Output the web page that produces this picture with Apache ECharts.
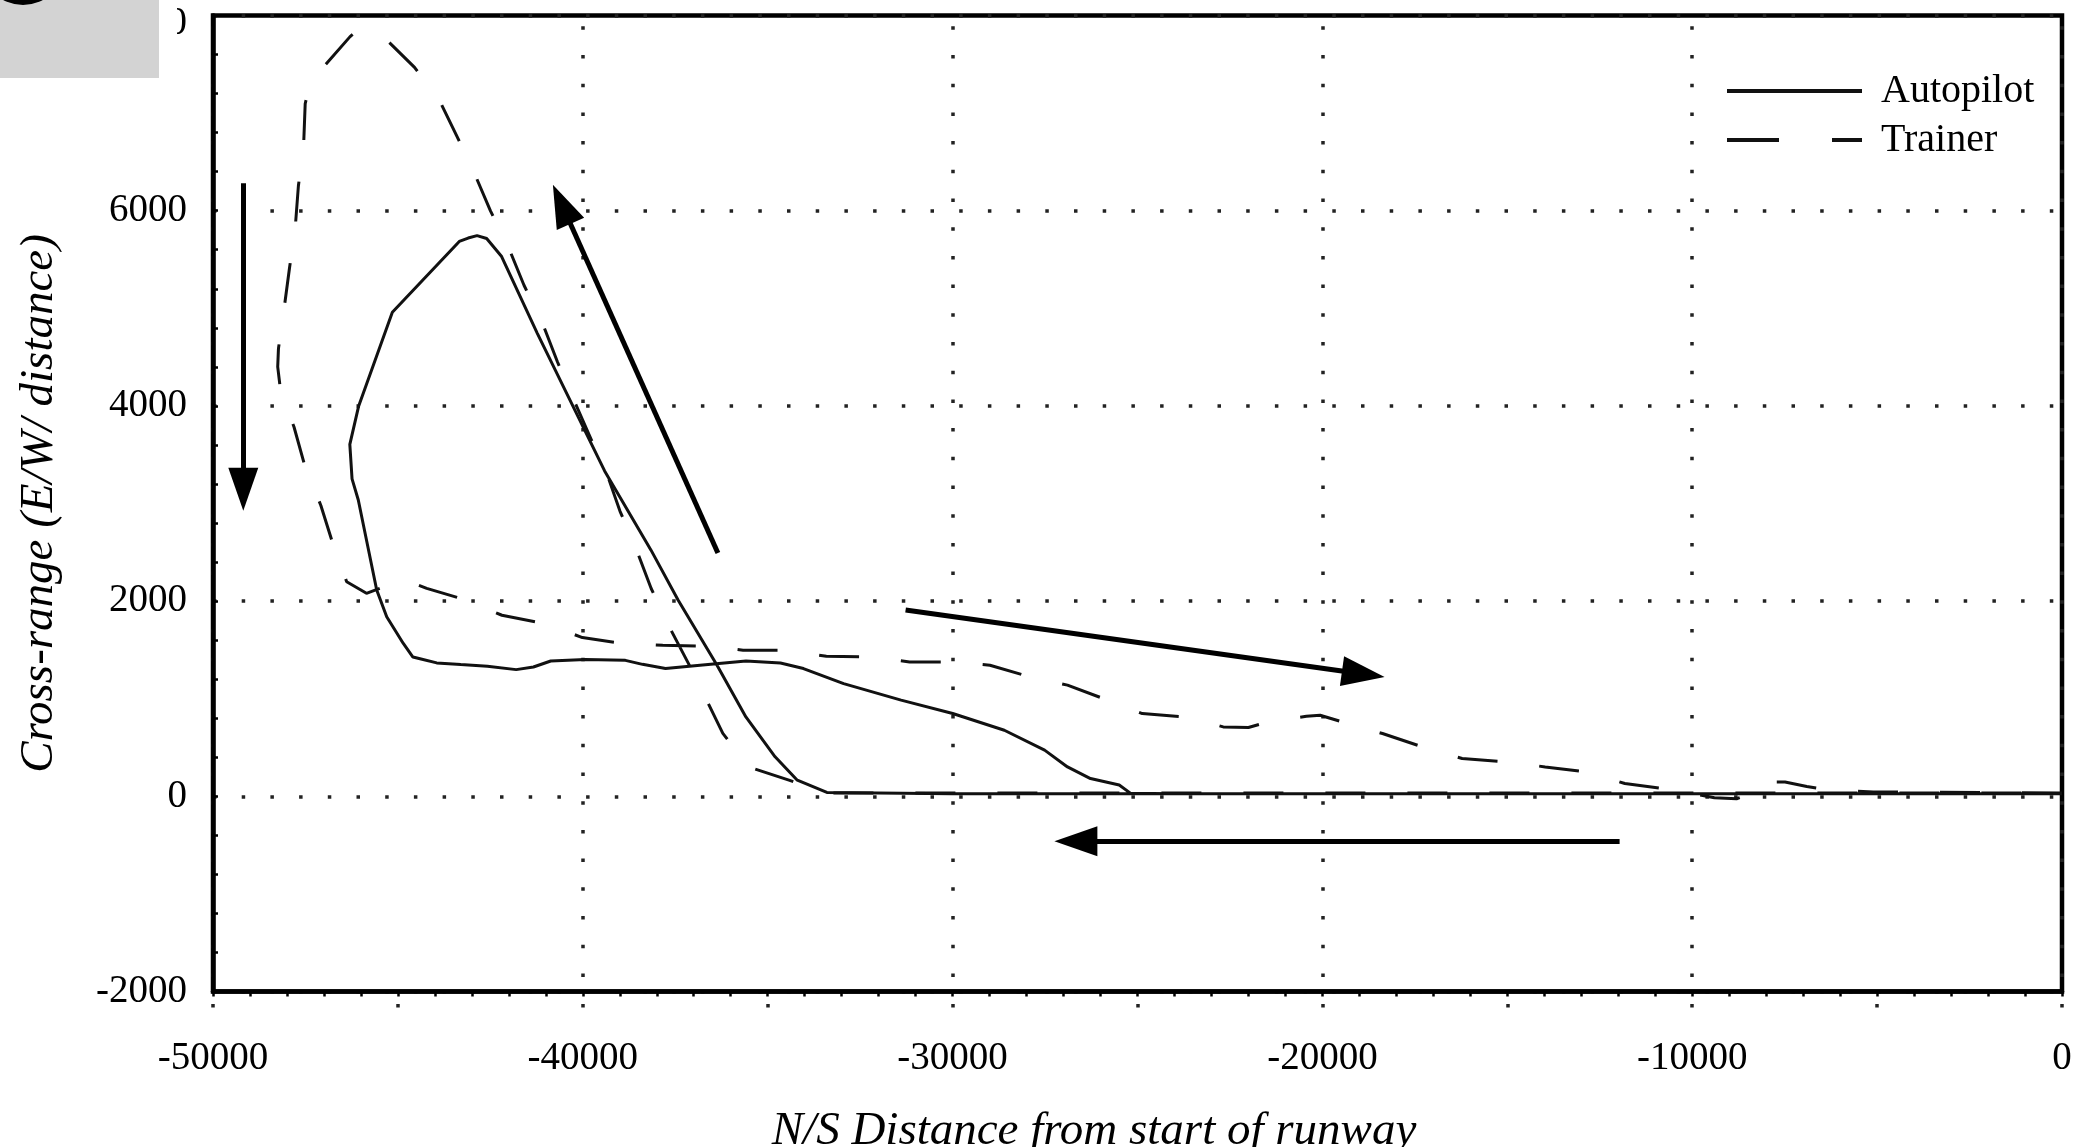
<!DOCTYPE html>
<html>
<head>
<meta charset="utf-8">
<script src="https://cdn.jsdelivr.net/npm/echarts@6/dist/echarts.min.js"></script>
<style>
html,body{margin:0;padding:0;background:#fff;}
#chart{width:2085px;height:1147px;}
</style>
</head>
<body>
<div id="chart"></div>
<script>
// ---------- data ----------
const seriesNames = ['Autopilot', 'Trainer'];
const xTickLabels = ['-50000', '-40000', '-30000', '-20000', '-10000', '0'];
const yTickLabels = ['-2000', '0', '2000', '4000', '6000', '8000'];

// [N/S distance, cross-range] in flight order
const autopilotPath = [
  [0, 25], [-10000, 25], [-20000, 25], [-30000, 25], [-33400, 40],
  [-34200, 165], [-34800, 405], [-35590, 813], [-36370, 1343], [-37420, 2009],
  [-38155, 2522], [-39410, 3334], [-41230, 4744], [-42195, 5530], [-42600, 5715],
  [-42860, 5745], [-43100, 5720], [-43340, 5685], [-45150, 4960], [-46060, 4000],
  [-46300, 3606], [-46240, 3252], [-46071, 3036], [-45573, 2113], [-45303, 1839],
  [-44854, 1566], [-44594, 1427], [-44402, 1410], [-43951, 1367], [-43300, 1350],
  [-42579, 1332], [-41802, 1298], [-41335, 1325], [-40867, 1386], [-39935, 1401],
  [-38849, 1393], [-38385, 1352], [-37763, 1309], [-36831, 1343], [-35587, 1386],
  [-34655, 1366], [-34033, 1309], [-32947, 1155], [-31393, 985], [-29997, 848],
  [-28601, 677], [-27512, 473], [-26893, 301], [-26271, 182], [-25494, 115],
  [-25184, 30], [-24000, 25]
];

const trainerPath = [
  [0, 35], [-5103, 44], [-6363, 69], [-6900, 100], [-7490, 147], [-8031, 147],
  [-8437, 20], [-8800, -25], [-9400, -15], [-10060, 35], [-10654, 72], [-11821, 131],
  [-12854, 251], [-13976, 301], [-15005, 353], [-16221, 387], [-17159, 489],
  [-18375, 643], [-19310, 745], [-20062, 831], [-20433, 820], [-21465, 763],
  [-22000, 705], [-22681, 711], [-23600, 810], [-24871, 848], [-25807, 985],
  [-26893, 1139], [-27904, 1223], [-28990, 1343], [-29997, 1377], [-31162, 1377],
  [-32249, 1427], [-33414, 1434], [-34500, 1497], [-35666, 1497], [-36522, 1538],
  [-37839, 1547], [-38928, 1565], [-40011, 1626], [-41025, 1769], [-42187, 1855],
  [-43140, 2010], [-44221, 2130], [-44854, 2223], [-45260, 2164], [-45850, 2080],
  [-46385, 2198], [-46747, 2574], [-47083, 2980], [-47507, 3372], [-47809, 3784],
  [-48173, 4155], [-48250, 4400], [-48230, 4587], [-48076, 5000], [-47932, 5410],
  [-47773, 5842], [-47691, 6253], [-47550, 6664], [-47507, 7096], [-47389, 7292],
  [-47025, 7468], [-46299, 7781], [-46058, 7860], [-45335, 7762], [-44550, 7468],
  [-43885, 7136], [-43403, 6762], [-42917, 6371], [-42497, 5998], [-42011, 5626],
  [-41590, 5236], [-41105, 4861], [-40684, 4450], [-40263, 4078], [-39536, 3453],
  [-39357, 3314], [-38993, 2920], [-38572, 2551], [-38151, 2129], [-37684, 1753],
  [-37141, 1359], [-36673, 1001], [-36213, 645], [-35511, 301], [-34425, 165],
  [-33414, 35], [-30000, 35], [-20000, 35], [-10000, 35], [-6000, 35], [0, 35]
];

// direction arrows: [fromX, fromY, toX, toY]
const arrowSegments = [
  [-49181, 6280, -49181, 3145],
  [-36347, 2492, -40571, 6066],
  [-31271, 1908, -18894, 1253],
  [-11963, -460, -26666, -460]
];

// ---------- chart ----------
const serif = "'Liberation Serif', 'Times New Roman', 'DejaVu Serif', serif";
const ink = '#111';
const dotted = {color: '#222', width: 3.5, type: [3.5, 25.2]};
const hidden = 'rgba(0,0,0,0)';

const chart = echarts.init(document.getElementById('chart'), null, {renderer: 'canvas'});

const option = {
  backgroundColor: '#ffffff',
  animation: false,
  grid: {
    left: 213, right: 23, top: 15.5, bottom: 155.5,
    containLabel: false, outerBoundsMode: 'none',
    show: true, borderColor: '#000', borderWidth: 4.5, backgroundColor: 'transparent'
  },
  legend: {
    orient: 'vertical',
    left: 1720, top: 66,
    itemWidth: 135, itemHeight: 14, itemGap: 9,
    selectedMode: false,
    itemStyle: {color: hidden, borderColor: hidden, borderWidth: 0, opacity: 0},
    textStyle: {fontFamily: serif, fontSize: 40, color: '#000', lineHeight: 40, padding: [0, 0, 0, 14]},
    data: [
      {name: seriesNames[0], lineStyle: {type: 'solid', width: 4, color: ink}},
      {name: seriesNames[1], lineStyle: {type: [52, 53], width: 4, color: ink}}
    ]
  },
  xAxis: [
    {
      type: 'value', min: -50000, max: 0, interval: 10000, position: 'bottom',
      axisLine: {show: true, onZero: false, lineStyle: {color: '#000', width: 4.5}},
      axisTick: {show: true, inside: false, length: 5, lineStyle: {color: '#000', width: 2.5}},
      minorTick: {show: true, splitNumber: 10, length: 5, lineStyle: {color: '#000', width: 2.5}},
      splitLine: {show: true, lineStyle: Object.assign({}, dotted, {dashOffset: 17.9})},
      axisLabel: {
        margin: 48, fontSize: 39, fontFamily: serif, color: '#000',
        formatter: v => xTickLabels[Math.round((v + 50000) / 10000)]
      },
      name: 'N/S Distance from start of runway',
      nameLocation: 'middle', nameGap: 117,
      nameTextStyle: {fontFamily: serif, fontStyle: 'italic', fontSize: 47, color: '#000', padding: [0, 87, 0, 0]}
    },
    {
      type: 'value', min: -50000, max: 0, interval: 5000, position: 'bottom',
      axisLine: {show: false, onZero: false},
      axisTick: {show: true, inside: false, length: 16, lineStyle: {color: '#222', width: 3.5, type: [0.01, 12.5, 3.5, 100]}},
      axisLabel: {show: false},
      splitLine: {show: false}
    }
  ],
  yAxis: {
    type: 'value', min: -2000, max: 8000, interval: 2000,
    axisLine: {show: true, onZero: false, lineStyle: {color: '#000', width: 4.5}},
    axisTick: {show: true, inside: true, length: 5, lineStyle: {color: '#000', width: 2.5}},
    minorTick: {show: true, splitNumber: 5, length: 5, lineStyle: {color: '#000', width: 2.5}},
    splitLine: {show: true, lineStyle: dotted},
    axisLabel: {
      margin: 26, fontSize: 39, fontFamily: serif, color: '#000',
      formatter: v => {
        const t = yTickLabels[Math.round((v + 2000) / 2000)];
        return v >= 8000 ? '{top|' + t + '}' : t;
      },
      rich: {top: {fontSize: 39, fontFamily: serif, color: '#000', padding: [16, 0, 0, 0]}}
    },
    name: 'Cross-range (E/W/ distance)',
    nameLocation: 'middle', nameGap: 150,
    nameTextStyle: {fontFamily: serif, fontStyle: 'italic', fontSize: 47, color: '#000'}
  },
  series: [
    {
      name: seriesNames[0], type: 'line', data: autopilotPath,
      showSymbol: false, symbol: 'none', smooth: false, sampling: null,
      itemStyle: {color: ink},
      lineStyle: {color: ink, width: 3, type: 'solid'},
      z: 3, silent: true
    },
    {
      name: seriesNames[1], type: 'line', data: trainerPath,
      showSymbol: false, symbol: 'none', smooth: false,
      itemStyle: {color: ink},
      lineStyle: {color: ink, width: 3, type: [40, 42]},
      z: 2, silent: true
    },
    {
      name: 'arrows', type: 'line', data: [], silent: true,
      markLine: {
        silent: true, animation: false,
        symbol: ['none', 'triangle'], symbolSize: [30, 43],
        label: {show: false},
        lineStyle: {color: '#000', width: 5, type: 'solid'},
        emphasis: {disabled: true},
        data: arrowSegments.map(a => [{coord: [a[0], a[1]]}, {coord: [a[2], a[3]]}])
      }
    }
  ],
  graphic: [
    {type: 'rect', shape: {x: 0, y: 0, width: 159, height: 78}, style: {fill: '#d3d3d3'}, z: 100},
    {type: 'rect', shape: {x: 159, y: 0, width: 18, height: 50}, style: {fill: '#ffffff'}, z: 100},
    {type: 'circle', shape: {cx: 23, cy: -37, r: 42}, style: {fill: '#000'}, z: 101}
  ]
};

chart.setOption(option);
</script>
</body>
</html>
